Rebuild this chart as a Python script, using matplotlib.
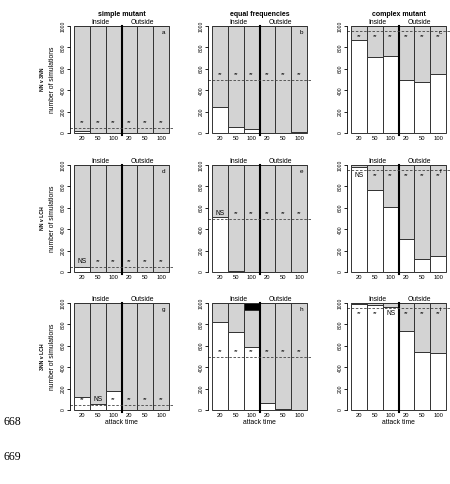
import matplotlib
matplotlib.use("Agg")
import matplotlib.pyplot as plt
import numpy as np

plt.rcParams['font.family'] = ['Liberation Sans', 'DejaVu Sans']

# ---- data (number of simulations out of 1000) ----
attack_times = ["20", "50", "100", "20", "50", "100"]
col_titles = ["simple mutant", "equal frequencies", "complex mutant"]
row_labels = ["NN v 3NN", "NN v LCH", "3NN v LCH"]
panel_ids = ["a", "b", "c", "d", "e", "f", "g", "h", "i"]

thresholds = [50, 500, 950]      # dashed line per column
sig_heights = [95, 550, 900]     # where the ** / NS sit per column

white_a = [20, 0, 0, 0, 0, 0]
grey_a = [980, 1000, 1000, 1000, 1000, 1000]
black_a = [0, 0, 0, 0, 0, 0]
sig_a = ["**", "**", "**", "**", "**", "**"]

white_b = [242, 59, 37, 3, 3, 9]
grey_b = [758, 941, 963, 997, 997, 991]
black_b = [0, 0, 0, 0, 0, 0]
sig_b = ["**", "**", "**", "**", "**", "**"]

white_c = [873, 708, 717, 494, 481, 556]
grey_c = [127, 292, 283, 506, 519, 444]
black_c = [0, 0, 0, 0, 0, 0]
sig_c = ["**", "**", "**", "**", "**", "**"]

white_d = [44, 0, 0, 0, 0, 0]
grey_d = [956, 1000, 1000, 1000, 1000, 1000]
black_d = [0, 0, 0, 0, 0, 0]
sig_d = ["NS", "**", "**", "**", "**", "**"]

white_e = [516, 9, 0, 0, 0, 0]
grey_e = [484, 991, 1000, 1000, 1000, 1000]
black_e = [0, 0, 0, 0, 0, 0]
sig_e = ["NS", "**", "**", "**", "**", "**"]

white_f = [980, 770, 606, 306, 122, 150]
grey_f = [20, 230, 394, 694, 878, 850]
black_f = [0, 0, 0, 0, 0, 0]
sig_f = ["NS", "**", "**", "**", "**", "**"]

white_g = [125, 59, 174, 0, 0, 0]
grey_g = [875, 941, 826, 1000, 1000, 1000]
black_g = [0, 0, 0, 0, 0, 0]
sig_g = ["**", "NS", "**", "**", "**", "**"]

white_h = [826, 726, 592, 69, 6, 0]
grey_h = [174, 274, 338, 931, 994, 1000]
black_h = [0, 0, 70, 0, 0, 0]
sig_h = ["**", "**", "**", "**", "**", "**"]

white_i = [994, 984, 966, 741, 540, 536]
grey_i = [6, 16, 34, 259, 460, 464]
black_i = [0, 0, 0, 0, 0, 0]
sig_i = ["**", "**", "NS", "**", "**", "**"]

bars = {
    "a": (white_a, grey_a, black_a, sig_a),
    "b": (white_b, grey_b, black_b, sig_b),
    "c": (white_c, grey_c, black_c, sig_c),
    "d": (white_d, grey_d, black_d, sig_d),
    "e": (white_e, grey_e, black_e, sig_e),
    "f": (white_f, grey_f, black_f, sig_f),
    "g": (white_g, grey_g, black_g, sig_g),
    "h": (white_h, grey_h, black_h, sig_h),
    "i": (white_i, grey_i, black_i, sig_i),
}

# ---- layout in pixels ----
W, H = 450, 484
bar_left = [74, 212, 351]
bar_w = 95
row_top = [26, 165, 303]
row_h = 107
edge = "#333333"


def panel_rect(col, row):
    ux = bar_w / 6.0
    uy = row_h / 1000.0
    left = bar_left[col] - 0.24 * ux
    top = row_top[row] - 40 * uy
    w = 6.48 * ux
    h = 1080 * uy
    return [left / W, 1 - (top + h) / H, w / W, h / H]


fig = plt.figure(figsize=(4.5, 4.84), dpi=100)

for k, pid in enumerate(panel_ids):
    row, col = divmod(k, 3)
    ax = fig.add_axes(panel_rect(col, row))
    white, grey, black, sig = bars[pid]
    x = np.arange(len(attack_times)) + 0.5

    ax.bar(x, white, width=1, color="white", edgecolor=edge, linewidth=0.7)
    ax.bar(x, grey, bottom=white, width=1, color="#d3d3d3", edgecolor=edge, linewidth=0.7)
    ax.bar(x, black, bottom=np.add(white, grey), width=1, color="black", edgecolor=edge, linewidth=0.7)

    # inside / outside separator
    ax.axvline(3, ymin=0.023, ymax=0.963, color="black", linewidth=1.5)
    ax.axhline(thresholds[col], color="#444444", linewidth=0.6, dashes=(3, 2))

    for xi, s in zip(x, sig):
        ax.text(xi, sig_heights[col], s, ha="center", va="center",
                fontsize=4.8 if s == "NS" else 4.2)

    ax.text(5.65, 935, pid, ha="center", va="center", fontsize=4.6)
    ax.text(1.7, 1037, "Inside", ha="center", va="center", fontsize=4.9)
    ax.text(4.3, 1037, "Outside", ha="center", va="center", fontsize=4.9)

    ax.set_xlim(-0.24, 6.24)
    ax.set_ylim(-40, 1040)
    for s in ["top", "right", "bottom"]:
        ax.spines[s].set_visible(False)
    ax.spines["left"].set_bounds(0, 1000)
    ax.spines["left"].set_linewidth(0.6)
    ax.set_yticks(range(0, 1001, 200))
    ax.tick_params(axis="y", direction="out", length=2.2, width=0.6, pad=1.2,
                   labelsize=3.6, labelrotation=90)
    ax.set_xticks(x)
    ax.set_xticklabels(attack_times)
    ax.tick_params(axis="x", length=0, pad=-0.8, labelsize=4.2)
    for lab in ax.get_yticklabels():
        lab.set_verticalalignment("center")

    if row == 0:
        ax.text(3, 1103, col_titles[col], ha="center", va="center",
                fontsize=5, fontweight="bold")
    if row == 2:
        fig.text((bar_left[col] + bar_w / 2) / W, 1 - 423 / H, "attack time",
                 ha="center", va="center", fontsize=4.9)
    if col == 0:
        yc = 1 - (row_top[row] + row_h / 2) / H
        fig.text(43 / W, yc, row_labels[row], rotation=90, ha="center",
                 va="center", fontsize=3.7, fontweight="bold")
        fig.text(52 / W, yc, "number of simulations", rotation=90, ha="center",
                 va="center", fontsize=4.9)

# manuscript line numbers
fig.text(3 / W, 1 - 422 / H, "668", ha="left", va="center", fontsize=8.5,
         family="Liberation Serif")
fig.text(3 / W, 1 - 457 / H, "669", ha="left", va="center", fontsize=8.5,
         family="Liberation Serif")

fig.savefig("out.png", dpi=100)
